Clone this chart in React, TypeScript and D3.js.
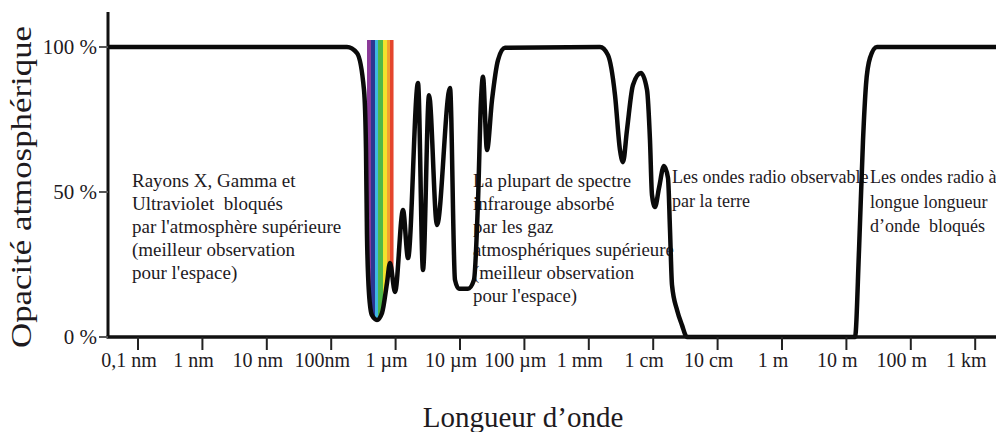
import React from "react";
import * as d3 from "d3";

// log10 of wavelength (m) and atmospheric opacity (%)
const wavelengthExp = [
  -10.47, -6.755, -6.599, -6.49, -6.46, -6.445, -6.413, -6.367, -6.289, -6.211, -6.134,
  -6.087, -6.009, -5.885, -5.807, -5.652, -5.575, -5.481, -5.357, -5.155, -5.078,
  -5.016, -4.876, -4.783, -4.72, -4.674, -4.643, -4.581, -4.503, -4.41, -4.301,
  -2.826, -2.702, -2.593, -2.516, -2.469, -2.407, -2.314, -2.19, -2.096, -2.05,
  -2.019, -1.972, -1.91, -1.832, -1.77, -1.739, -1.708, -1.63, -1.553, -1.475,
  1.134, 1.196, 1.258, 1.304, 1.366, 1.475, 3.33,
];
const opacityPct = [
  100, 100, 97.9, 85, 65, 36, 15, 7.5, 5.9, 8.3, 18.6,
  25.5, 15.5, 43.8, 27.2, 87.6, 23.1, 83.4, 38.6, 85.9, 19.7,
  16.6, 16.6, 19.7, 47.2, 81.7, 89.7, 64.5, 81.7, 95.5, 99.7,
  100, 97.2, 83.4, 64.5, 60.3, 71.4, 86.9, 91, 85.2, 67.9,
  49, 44.8, 51.4, 59, 54.8, 36.9, 17.9, 9.3, 4.1, 0,
  0, 30, 67.9, 86.9, 96.2, 100, 100,
];

// visible spectrum bands (log10 wavelength edges) and their colours
const spectrumEdges = [-6.444, -6.382, -6.32, -6.273, -6.195, -6.133, -6.087, -6.04];
const spectrumColors = ["#8b3a98", "#2c3692", "#3fb6e2", "#4fb848", "#f2e22c", "#f2a02e", "#e4452c"];

const xTickExps = [-10, -9, -8, -7, -6, -5, -4, -3, -2, -1, 0, 1, 2, 3];
const xTickLabels = [
  "0,1 nm", "1 nm", "10 nm", "100nm", "1 µm", "10 µm", "100 µm",
  "1 mm", "1 cm", "10 cm", "1 m", "10 m", "100 m", "1 km",
];
const yTickValues = [0, 50, 100];
const yTickLabels = ["0 %", "50 %", "100 %"];

const xTitle = "Longueur d’onde";
const yTitle = "Opacité atmosphérique";

const noteXray = [
  "Rayons X, Gamma et",
  "Ultraviolet  bloqués",
  "par l'atmosphère supérieure",
  "(meilleur observation",
  "pour l'espace)",
];
const noteInfrared = [
  "La plupart de spectre",
  "infrarouge absorbé",
  "par les gaz",
  "atmosphériques supérieure",
  "(meilleur observation",
  "pour l'espace)",
];
const noteRadio = ["Les ondes radio observable", "par la terre"];
const noteLongRadio = ["Les ondes radio à", "longue longueur", "d’onde  bloqués"];

const W = 996;
const H = 432;
const FONT = "'Liberation Serif', 'Times New Roman', serif";

export default function App() {
  const x = d3
    .scaleLog()
    .domain([Math.pow(10, -10.466), Math.pow(10, 3.323)])
    .range([108, 996]);
  const y = d3.scaleLinear().domain([0, 100]).range([337, 47]);

  const pts: [number, number][] = wavelengthExp.map((e, i) => [Math.pow(10, e), opacityPct[i]]);

  const line = d3
    .line<[number, number]>()
    .x((d) => x(d[0]))
    .y((d) => y(d[1]))
    .curve(d3.curveMonotoneX);

  const area = d3
    .area<[number, number]>()
    .x((d) => x(d[0]))
    .y0(40)
    .y1((d) => y(d[1]))
    .curve(d3.curveMonotoneX);

  const textColor = "#1e1a1e";

  const renderNote = (lines: string[], x0: number, y0: number, size: number, gap: number) => (
    <text x={x0} y={y0} fontSize={size} fill={textColor} fontFamily={FONT}>
      {lines.map((l, i) => (
        <tspan key={i} x={x0} y={y0 + i * gap} style={{ whiteSpace: "pre" }}>
          {l}
        </tspan>
      ))}
    </text>
  );

  return (
    <div style={{ position: "fixed", left: 0, top: 0, width: W, height: H, background: "#fff" }}>
      <svg width={W} height={H} style={{ display: "block" }}>
        <defs>
          <clipPath id="dipClip">
            <path d={area(pts) || ""} />
          </clipPath>
        </defs>
        <rect x={0} y={0} width={W} height={H} fill="#fff" />

        {/* spectrum bands */}
        <g clipPath="url(#dipClip)">
          {spectrumColors.map((c, i) => (
            <rect
              key={i}
              x={x(Math.pow(10, spectrumEdges[i]))}
              y={40}
              width={x(Math.pow(10, spectrumEdges[i + 1])) - x(Math.pow(10, spectrumEdges[i])) + 0.5}
              height={300}
              fill={c}
            />
          ))}
        </g>

        {/* annotations */}
        {renderNote(noteXray, 132, 187, 19, 23)}
        {renderNote(noteInfrared, 473, 187, 18.8, 23)}
        {renderNote(noteRadio, 672, 183, 18, 24)}
        {renderNote(noteLongRadio, 870, 183, 18, 24.5)}

        {/* curve */}
        <path d={line(pts) || ""} fill="none" stroke="#0a0a0a" strokeWidth={4.5} strokeLinejoin="round" />

        {/* axes */}
        <line x1={108} x2={108} y1={12} y2={338} stroke="#111" strokeWidth={3} />
        <line x1={106.5} x2={W} y1={337} y2={337} stroke="#111" strokeWidth={3.5} />

        {xTickExps.map((e, i) => (
          <g key={i}>
            <line
              x1={x(Math.pow(10, e))}
              x2={x(Math.pow(10, e))}
              y1={337}
              y2={350}
              stroke="#222"
              strokeWidth={2}
            />
            <text
              x={x(Math.pow(10, e)) - 9}
              y={367}
              textAnchor="middle"
              fontSize={20}
              fontFamily={FONT}
              fill={textColor}
            >
              {xTickLabels[i]}
            </text>
          </g>
        ))}

        {yTickValues.map((v, i) => (
          <g key={i}>
            <line x1={99} x2={108} y1={y(v)} y2={y(v)} stroke="#555" strokeWidth={2} />
            <text
              x={97}
              y={y(v) + 7}
              textAnchor="end"
              fontSize={21}
              fontFamily={FONT}
              fill={textColor}
            >
              {yTickLabels[i]}
            </text>
          </g>
        ))}

        <text
          x={523}
          y={427}
          textAnchor="middle"
          fontSize={29}
          fontFamily={FONT}
          fill={textColor}
        >
          {xTitle}
        </text>
        <text
          transform="translate(31,187) rotate(-90)"
          textAnchor="middle"
          fontSize={29}
          fontFamily={FONT}
          fill={textColor}
          textLength={322}
          lengthAdjust="spacingAndGlyphs"
        >
          {yTitle}
        </text>
      </svg>
    </div>
  );
}
